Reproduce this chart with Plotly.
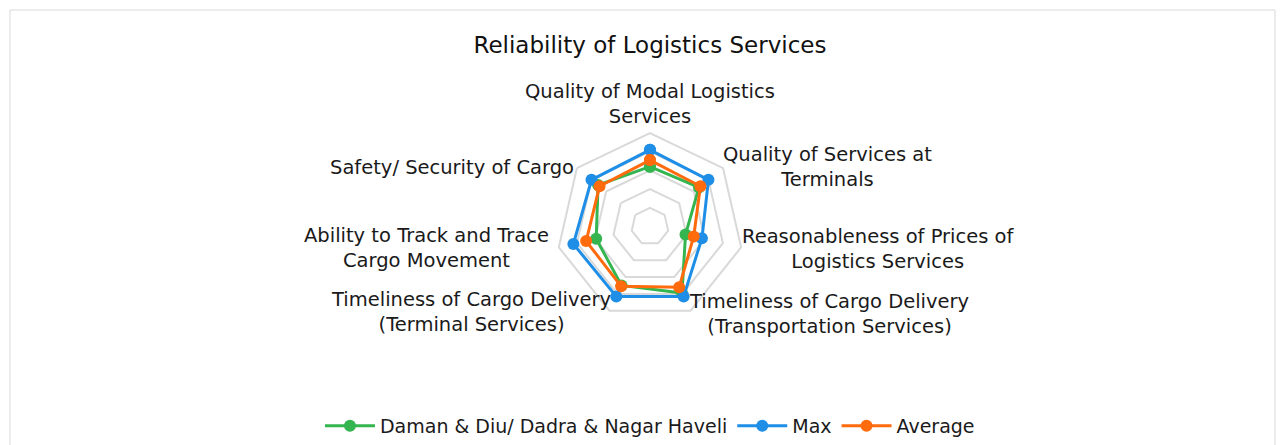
import plotly.graph_objects as go

# Radar chart: Reliability of Logistics Services
CATEGORIES = [
    "Quality of Modal Logistics<br>Services",
    "Quality of Services at<br>Terminals",
    "Reasonableness of Prices of<br>Logistics Services",
    "Timeliness of Cargo Delivery<br>(Transportation Services)",
    "Timeliness of Cargo Delivery<br>(Terminal Services)",
    "Ability to Track and Trace<br>Cargo Movement",
    "Safety/ Security of Cargo",
]
DAMAN = [3.2, 3.35, 1.95, 3.95, 3.5, 2.95, 3.55]
MAX = [4.1, 4.0, 2.85, 4.15, 4.15, 4.2, 4.0]
AVERAGE = [3.55, 3.45, 2.4, 3.6, 3.55, 3.5, 3.45]

SERIES = [
    ("Daman & Diu/ Dadra & Nagar Haveli", DAMAN, "#34b54f"),
    ("Max", MAX, "#1f8ee6"),
    ("Average", AVERAGE, "#ff6b0d"),
]

# category label positions (paper coords)
LABEL_X = [0.5059, 0.6466, 0.6866, 0.6474, 0.3643, 0.3292, 0.3498]
LABEL_Y = [0.7867, 0.6456, 0.4612, 0.3138, 0.3172, 0.4628, 0.6445]

FONT = "DejaVu Sans"

fig = go.Figure()
for name, vals, color in SERIES:
    fig.add_trace(go.Scatterpolar(
        r=vals + vals[:1],
        theta=CATEGORIES + CATEGORIES[:1],
        name=name,
        mode="lines+markers",
        line=dict(color=color, width=3),
        marker=dict(color=color, size=12),
    ))

for cat, x, y in zip(CATEGORIES, LABEL_X, LABEL_Y):
    fig.add_annotation(
        x=x, y=y, xref="paper", yref="paper", text=cat, showarrow=False,
        align="center", xanchor="center", yanchor="middle",
        font=dict(family=FONT, size=19.5, color="#1a1a1a"),
    )

# polar placement: centre and radius in pixels of the plot area
cx, cy = 0.5059, 0.5113
rx, ry = 93.5 / 1265, 93.5 / 443

fig.update_layout(
    width=1285, height=445,
    margin=dict(l=2, r=18, t=2, b=0),
    paper_bgcolor="white",
    font=dict(family=FONT, size=19, color="#1a1a1a"),
    title=dict(
        text="Reliability of Logistics Services",
        x=0.5059, xanchor="center", xref="paper",
        y=0.921, yanchor="middle", yref="paper",
        font=dict(family=FONT, size=23, color="#111111"),
    ),
    polar=dict(
        domain=dict(x=[cx - rx, cx + rx], y=[cy - ry, cy + ry]),
        bgcolor="rgba(0,0,0,0)",
        gridshape="linear",
        radialaxis=dict(
            range=[0, 5], dtick=1, showticklabels=False, ticks="",
            showline=False, gridcolor="#d9d9d9", gridwidth=2,
        ),
        angularaxis=dict(
            direction="clockwise", rotation=90, showticklabels=False,
            ticks="", showgrid=False, showline=True,
            linecolor="#d9d9d9", linewidth=2,
        ),
    ),
    showlegend=True,
    legend=dict(
        orientation="h", x=0.5059, xanchor="center", y=0.061, yanchor="middle",
        font=dict(family=FONT, size=19, color="#1a1a1a"),
        itemwidth=50,
    ),
    shapes=[dict(
        type="rect", xref="paper", yref="paper", x0=0, x1=1, y0=0, y1=1,
        line=dict(color="#d9d9d9", width=1),
    )],
)

fig.write_html("out.html")
